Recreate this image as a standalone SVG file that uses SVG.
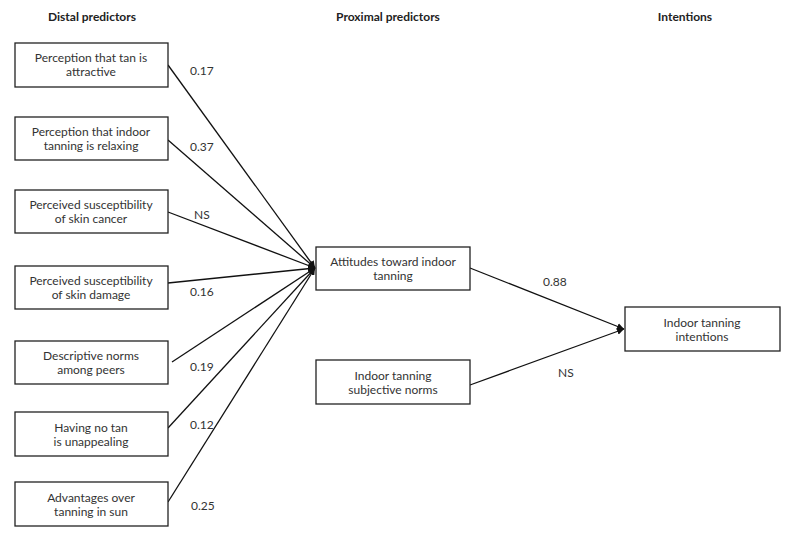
<svg xmlns="http://www.w3.org/2000/svg" width="793" height="537" viewBox="0 0 793 537">
<style>
.box{fill:#fff;stroke:#222;stroke-width:1.3}
.t{font-family:Lato,"Noto Sans",sans-serif;font-size:12px;fill:#333;text-anchor:middle}
.h{font-family:Lato,"Noto Sans",sans-serif;font-size:12px;font-weight:bold;fill:#222;text-anchor:middle}
.l{font-family:Lato,"Noto Sans",sans-serif;font-size:12px;fill:#333}
.c{stroke:#111;stroke-width:1.3;fill:none;marker-end:url(#ah)}
</style>
<defs>
<marker id="ah" viewBox="0 0 10 10" refX="10" refY="5" markerWidth="7" markerHeight="7" orient="auto" markerUnits="userSpaceOnUse">
<path d="M0,0 L10,5 L0,10 z" fill="#111"/>
</marker>
</defs>
<rect width="793" height="537" fill="#fff"/>
<text class="h" x="92" y="21">Distal predictors</text>
<text class="h" x="388" y="21">Proximal predictors</text>
<text class="h" x="685" y="21">Intentions</text>
<g id="connectors">
<line class="c" x1="168" y1="65" x2="315" y2="268"/>
<line class="c" x1="168" y1="140" x2="315" y2="268"/>
<line class="c" x1="168" y1="212" x2="315" y2="268"/>
<line class="c" x1="168" y1="283" x2="315" y2="268"/>
<line class="c" x1="172" y1="362" x2="315" y2="268"/>
<line class="c" x1="168" y1="428" x2="315" y2="268"/>
<line class="c" x1="168" y1="502" x2="315" y2="268"/>
<line class="c" x1="470" y1="268" x2="624" y2="329"/>
<line class="c" x1="470" y1="385" x2="624" y2="329"/>
<text class="l" x="190" y="75">0.17</text>
<text class="l" x="190" y="151">0.37</text>
<text class="l" x="194" y="219">NS</text>
<text class="l" x="190" y="296">0.16</text>
<text class="l" x="190" y="371">0.19</text>
<text class="l" x="190" y="429">0.12</text>
<text class="l" x="191" y="510">0.25</text>
<text class="l" x="543" y="286">0.88</text>
<text class="l" x="558" y="377">NS</text>
</g>
<g id="n1"><rect class="box" x="15" y="43" width="153" height="44"/><text class="t" x="91" y="62">Perception that tan is</text><text class="t" x="91" y="76">attractive</text></g>
<g id="n2"><rect class="box" x="15" y="117" width="153" height="43"/><text class="t" x="91" y="136">Perception that indoor</text><text class="t" x="91" y="150">tanning is relaxing</text></g>
<g id="n3"><rect class="box" x="15" y="190" width="153" height="43"/><text class="t" x="91" y="209">Perceived susceptibility</text><text class="t" x="91" y="223">of skin cancer</text></g>
<g id="n4"><rect class="box" x="15" y="266" width="153" height="43"/><text class="t" x="91" y="285">Perceived susceptibility</text><text class="t" x="91" y="299">of skin damage</text></g>
<g id="n5"><rect class="box" x="15" y="341" width="153" height="43"/><text class="t" x="91" y="360">Descriptive norms</text><text class="t" x="91" y="374">among peers</text></g>
<g id="n6"><rect class="box" x="15" y="412" width="153" height="44"/><text class="t" x="91" y="432">Having no tan</text><text class="t" x="91" y="446">is unappealing</text></g>
<g id="n7"><rect class="box" x="15" y="482" width="153" height="44"/><text class="t" x="91" y="502">Advantages over</text><text class="t" x="91" y="516">tanning in sun</text></g>
<g id="n8"><rect class="box" x="316" y="247" width="154" height="43"/><text class="t" x="393" y="266">Attitudes toward indoor</text><text class="t" x="393" y="280">tanning</text></g>
<g id="n9"><rect class="box" x="316" y="360" width="154" height="44"/><text class="t" x="393" y="380">Indoor tanning</text><text class="t" x="393" y="394">subjective norms</text></g>
<g id="n10"><rect class="box" x="625" y="307" width="155" height="44"/><text class="t" x="702" y="327">Indoor tanning</text><text class="t" x="702" y="341">intentions</text></g>
</svg>
